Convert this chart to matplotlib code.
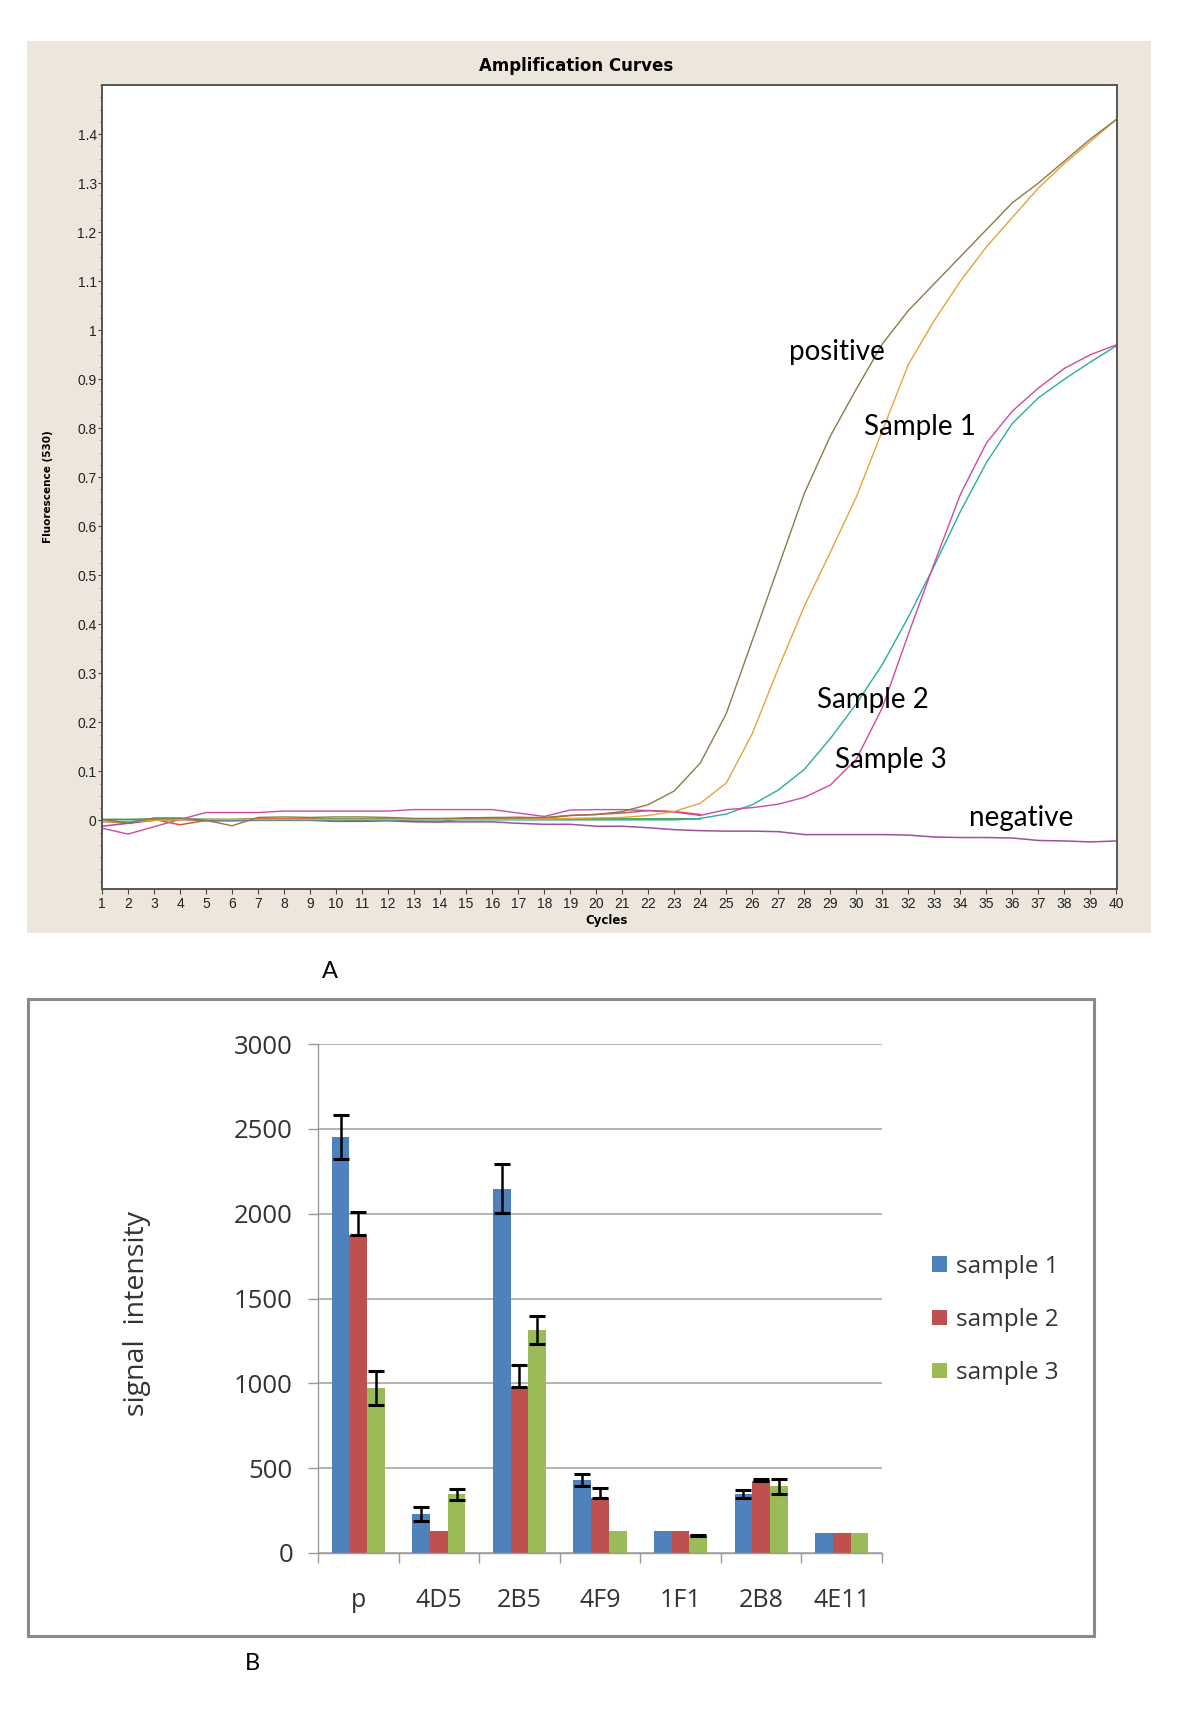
import numpy as np
import matplotlib
matplotlib.use("Agg")
import matplotlib.pyplot as plt
from matplotlib.patches import Rectangle
from matplotlib.ticker import MultipleLocator

# ---------------- data: panel A (amplification curves) ----------------
cycles = list(range(1, 41))
positive = [0.002, -0.005, 0.005, 0.005, 0.000, -0.011, 0.006, 0.007, 0.006, 0.007,
            0.007, 0.006, 0.004, 0.004, 0.005, 0.006, 0.006, 0.006, 0.010, 0.012,
            0.018, 0.032, 0.060, 0.117, 0.218, 0.367, 0.517, 0.667, 0.784, 0.880,
            0.972, 1.040, 1.095, 1.150, 1.205, 1.260, 1.300, 1.345, 1.390, 1.430]
sample1 = [-0.003, -0.003, 0.000, 0.001, 0.002, 0.002, 0.002, 0.002, 0.002, 0.002,
           0.002, 0.002, 0.002, 0.002, 0.002, 0.002, 0.002, 0.003, 0.004, 0.005,
           0.006, 0.010, 0.018, 0.035, 0.076, 0.177, 0.310, 0.437, 0.547, 0.660,
           0.795, 0.930, 1.020, 1.100, 1.170, 1.230, 1.290, 1.340, 1.385, 1.430]
sample2 = [-0.002, -0.002, 0.000, 0.001, 0.002, 0.001, 0.001, 0.001, 0.001, 0.001,
           0.001, 0.001, 0.001, 0.001, 0.001, 0.001, 0.001, 0.001, 0.001, 0.001,
           0.001, 0.001, 0.001, 0.004, 0.013, 0.032, 0.062, 0.104, 0.167, 0.238,
           0.318, 0.415, 0.520, 0.630, 0.730, 0.810, 0.862, 0.900, 0.935, 0.968]
sample3 = [-0.016, -0.028, -0.013, 0.002, 0.016, 0.016, 0.016, 0.019, 0.019, 0.019,
           0.019, 0.019, 0.022, 0.022, 0.022, 0.022, 0.015, 0.008, 0.021, 0.022,
           0.022, 0.020, 0.017, 0.010, 0.022, 0.026, 0.033, 0.047, 0.072, 0.125,
           0.230, 0.380, 0.525, 0.665, 0.770, 0.835, 0.882, 0.922, 0.950, 0.970]
negative = [-0.012, -0.006, 0.000, 0.002, -0.001, -0.001, 0.000, 0.000, 0.000, -0.002,
            -0.002, -0.001, -0.003, -0.003, -0.003, -0.003, -0.006, -0.008, -0.008, -0.012,
            -0.012, -0.015, -0.019, -0.021, -0.022, -0.022, -0.023, -0.029, -0.029, -0.029,
            -0.029, -0.030, -0.034, -0.035, -0.035, -0.036, -0.041, -0.042, -0.044, -0.042]
base_cycles = list(range(1, 25))
baseline_red = [-0.002, -0.006, 0.002, -0.009, 0.000, 0.001, 0.003, 0.003, 0.003, -0.002,
                0.000, 0.002, -0.002, -0.003, 0.005, 0.005, 0.006, 0.004, 0.010, 0.012,
                0.015, 0.020, 0.018, 0.012]
baseline_green = [0.002, 0.002, 0.003, 0.003, 0.002, 0.002, 0.003, 0.003, 0.003, 0.003,
                  0.003, 0.003, 0.002, 0.002, 0.003, 0.003, 0.003, 0.003, 0.003, 0.003,
                  0.003, 0.003, 0.003, 0.003]
y_ticks_a = [0, 0.1, 0.2, 0.3, 0.4, 0.5, 0.6, 0.7, 0.8, 0.9, 1.0, 1.1, 1.2, 1.3, 1.4]
y_labels_a = ['0', '0.1', '0.2', '0.3', '0.4', '0.5', '0.6', '0.7', '0.8', '0.9',
              '1', '1.1', '1.2', '1.3', '1.4']

# ---------------- data: panel B (bar chart) ----------------
categories = ['p', '4D5', '2B5', '4F9', '1F1', '2B8', '4E11']
series_names = ['sample 1', 'sample 2', 'sample 3']
s1 = [2450, 229, 2148, 428, 128, 347, 118]
s2 = [1876, 128, 980, 327, 128, 426, 118]
s3 = [970, 345, 1315, 128, 104, 392, 118]
s1_err_lo = [130, 43, 145, 35, 0, 22, 0]
s1_err_hi = [130, 43, 145, 35, 0, 22, 0]
s2_err_lo = [0, 0, 0, 0, 0, 0, 0]
s2_err_hi = [134, 0, 128, 55, 0, 12, 0]
s3_err_lo = [100, 35, 82, 0, 5, 44, 0]
s3_err_hi = [100, 35, 82, 0, 5, 44, 0]
y_ticks_b = [0, 500, 1000, 1500, 2000, 2500, 3000]

# ---------------- figure ----------------
W, H = 1200, 1716
fig = plt.figure(figsize=(W / 100, H / 100), dpi=100)
fig.patch.set_facecolor('white')

def fx(px):
    return px / W

def fy(py):
    return 1 - py / H

# beige panel background for A
fig.patches.append(Rectangle((fx(27), fy(933)), (1151 - 27) / W, (933 - 41) / H,
                             transform=fig.transFigure, facecolor='#ECE6DC',
                             edgecolor='none', zorder=-10))

ax1 = fig.add_axes([fx(102), fy(889), (1116.5 - 102) / W, (889 - 85) / H])
ax1.set_zorder(2)
ax1.set_facecolor('white')
ax1.plot(base_cycles, baseline_green, color='#3c9a3c', lw=1.1)
ax1.plot(base_cycles, baseline_red, color='#e0553a', lw=1.1)
ax1.plot(cycles, negative, color='#9e4f9e', lw=1.1)
ax1.plot(cycles, sample2, color='#2aada0', lw=1.0)
ax1.plot(cycles, sample3, color='#cc4aa8', lw=1.0)
ax1.plot(cycles, sample1, color='#e3a43c', lw=1.0)
ax1.plot(cycles, positive, color='#8c7b48', lw=1.0)

ax1.set_xlim(1, 40)
ax1.set_ylim(-0.14, 1.5)
ax1.set_xticks(cycles)
ax1.set_xticklabels([str(c) for c in cycles], fontsize=10, family='Liberation Sans', color='#222222')
ax1.set_yticks(y_ticks_a)
ax1.set_yticklabels(y_labels_a, fontsize=10, family='Liberation Sans', color='#222222')
ax1.yaxis.set_minor_locator(MultipleLocator(0.025))
ax1.tick_params(axis='y', which='major', length=3, width=0.8, pad=0.8, color='#444444')
ax1.tick_params(axis='y', which='minor', length=1.6, width=0.7, color='#444444')
ax1.tick_params(axis='x', which='major', length=3.5, width=0.8, pad=2.5, color='#444444')
for sp in ax1.spines.values():
    sp.set_color('#555555')
    sp.set_linewidth(1.4)

fig.text(fx(576), fy(66), 'Amplification Curves', ha='center', va='center',
         fontsize=12, fontweight='bold', family='DejaVu Sans')
fig.text(fx(48), fy(487), 'Fluorescence (530)', ha='center', va='center', rotation=90,
         fontsize=7.5, fontweight='bold', family='DejaVu Sans')
fig.text(fx(607), fy(921), 'Cycles', ha='center', va='center',
         fontsize=8.5, fontweight='bold', family='DejaVu Sans')

lab_kw = dict(fontsize=20, family='Lato', ha='center', va='center', color='black')
ax1.text(29.26, 0.955, 'positive', **lab_kw)
ax1.text(32.45, 0.802, 'Sample 1', **lab_kw)
ax1.text(30.64, 0.245, 'Sample 2', **lab_kw)
ax1.text(31.33, 0.123, 'Sample 3', **lab_kw)
ax1.text(36.33, 0.005, 'negative', **lab_kw)

fig.text(fx(330), fy(971), 'A', ha='center', va='center', fontsize=17, family='Lato')

# ---------------- panel B ----------------
fig.patches.append(Rectangle((fx(28), fy(1636)), (1094 - 28) / W, (1636 - 999) / H,
                             transform=fig.transFigure, facecolor='none',
                             edgecolor='#8a8a8a', lw=2.2, zorder=-10))

ax2 = fig.add_axes([fx(318), fy(1553), (882 - 318) / W, (1553 - 1044) / H])
x = np.arange(len(categories))
bw = 0.22
colors = ['#4F81BD', '#C0504D', '#9BBB59']
series = [s1, s2, s3]
errs = [(s1_err_lo, s1_err_hi), (s2_err_lo, s2_err_hi), (s3_err_lo, s3_err_hi)]
handles = []
for k, (vals, col, name, (elo, ehi)) in enumerate(zip(series, colors, series_names, errs)):
    pos = x + (k - 1) * bw
    b = ax2.bar(pos, vals, width=bw, color=col, label=name, zorder=2)
    handles.append(b)
    idx = [i for i in range(len(vals)) if elo[i] > 0 or ehi[i] > 0]
    ax2.errorbar([pos[i] for i in idx], [vals[i] for i in idx],
                 yerr=[[elo[i] for i in idx], [ehi[i] for i in idx]],
                 fmt='none', ecolor='black', elinewidth=1.8, capsize=5.5,
                 capthick=2.2, zorder=3)

ax2.set_xlim(-0.5, len(categories) - 0.5)
ax2.set_ylim(0, 3000)
ax2.set_yticks(y_ticks_b)
ax2.set_yticklabels([str(v) for v in y_ticks_b], fontsize=18.5, family='Open Sans', color='#333333')
ax2.set_xticks(x)
ax2.set_xticklabels(categories, fontsize=18, family='Open Sans', color='#333333')
ax2.set_xticks(np.arange(-0.5, len(categories)), minor=True)
ax2.tick_params(axis='x', which='major', length=0, pad=25)
ax2.tick_params(axis='x', which='minor', length=7, width=1.0, color='#999999')
ax2.tick_params(axis='y', which='major', length=7, width=1.0, color='#999999', pad=11)
ax2.yaxis.grid(True, color='#a8a8a8', lw=1.2, zorder=0)
ax2.set_axisbelow(True)
for side in ['top', 'right']:
    ax2.spines[side].set_visible(False)
for side in ['left', 'bottom']:
    ax2.spines[side].set_color('#999999')
    ax2.spines[side].set_linewidth(1.0)

fig.text(fx(137), fy(1313), 'signal  intensity', rotation=90, ha='center', va='center',
         fontsize=20.5, family='Open Sans', color='#333333')

ax2.legend(handles=handles, labels=series_names, loc='center left',
           bbox_to_anchor=(fx(932), fy(1320)), bbox_transform=fig.transFigure,
           frameon=False, prop={'family': 'Open Sans', 'size': 17.5},
           handlelength=0.62, handleheight=0.62, handletextpad=0.35,
           labelspacing=1.2, borderpad=0, borderaxespad=0, labelcolor='#333333')

fig.text(fx(252), fy(1663), 'B', ha='center', va='center', fontsize=17, family='Lato')

fig.savefig('out.png', dpi=100, facecolor='white')
